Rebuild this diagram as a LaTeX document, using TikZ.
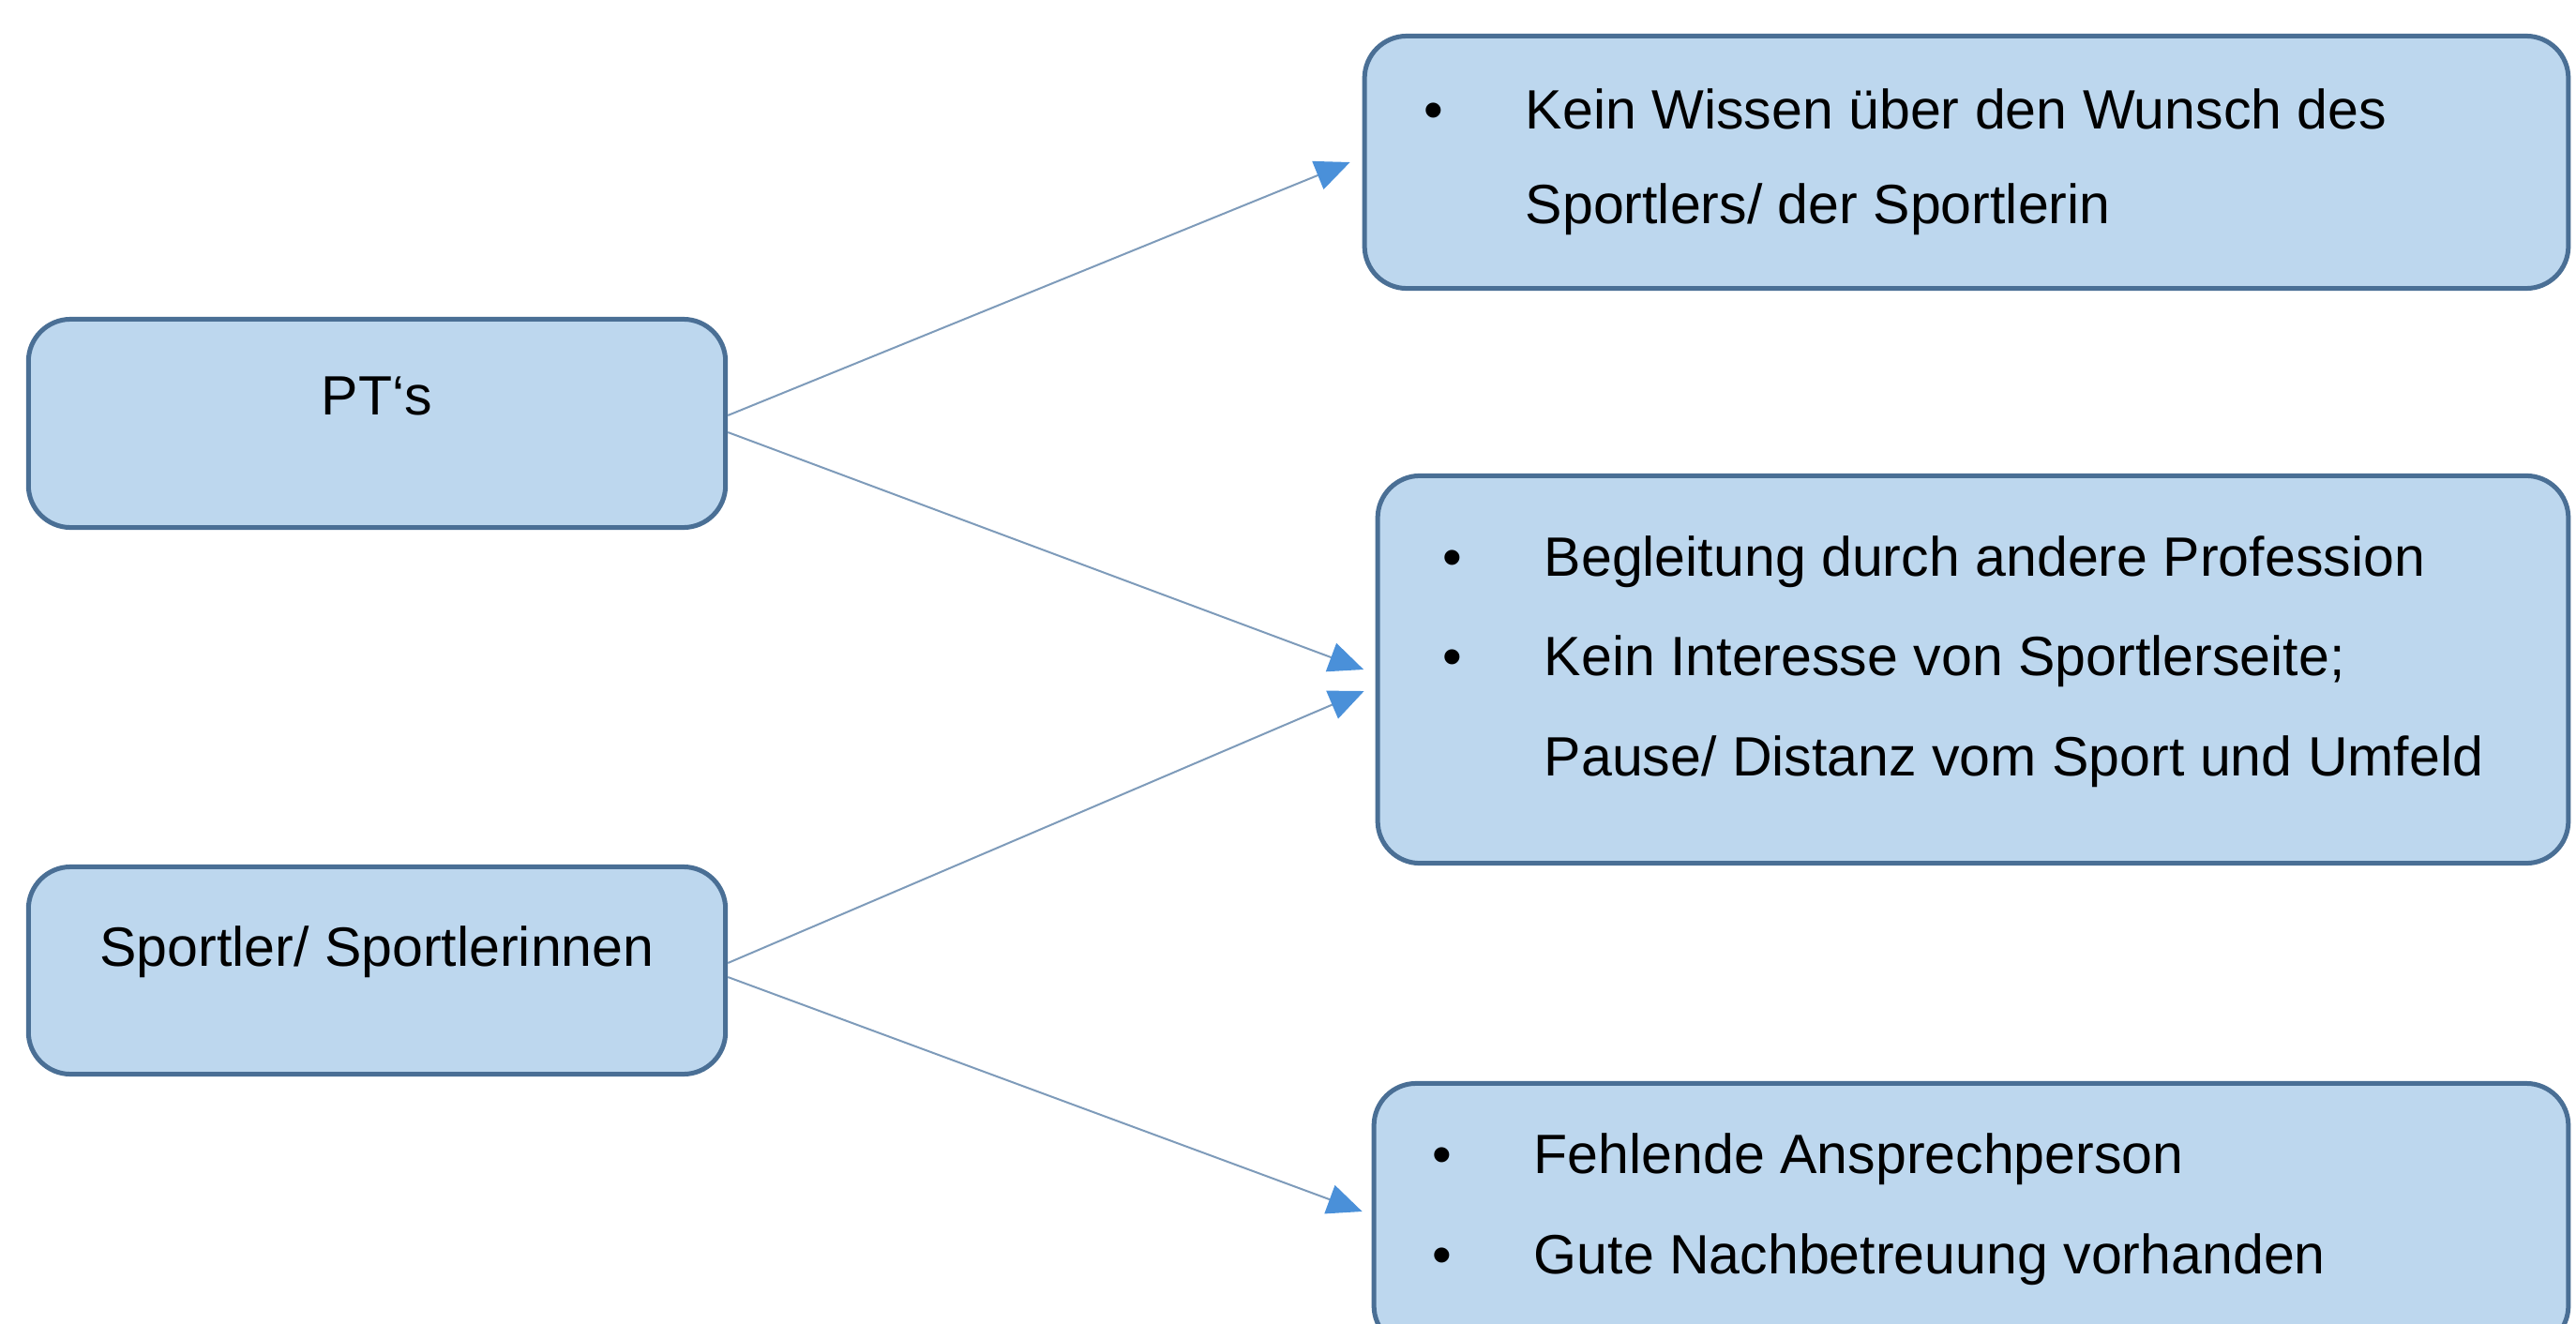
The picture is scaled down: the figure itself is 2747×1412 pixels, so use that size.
\documentclass[tikz,border=0pt]{standalone}
\usepackage{fontspec}
\setmainfont{Liberation Sans}
\usetikzlibrary{arrows.meta}
\definecolor{boxfill}{HTML}{BDD7EE}
\definecolor{boxline}{HTML}{4A6F95}
\definecolor{linkline}{HTML}{7E9BBA}
\definecolor{tipblue}{HTML}{4A90D9}
\newcommand{\bul}{\makebox[1.08cm][l]{\textbullet}}
\newcommand{\ind}{\hspace*{1.08cm}}

\begin{document}
\begin{tikzpicture}[x=0.01cm,y=-0.01cm,
  >={Triangle[length=0.37cm,width=0.32cm,color=tipblue]},
  box/.style={draw=boxline,fill=boxfill,line width=0.05cm,rounded corners=0.45cm,inner sep=0pt},
  txt/.style={inner sep=0pt,align=left,font=\fontsize{16.8}{30.2}\selectfont},
  link/.style={linkline,line width=0.02cm,->}]
%%
\useasboundingbox (0,0) rectangle (2747,1412);
\clip (0,0) rectangle (2747,1412);
%% boxes
\node (box_pt) at (402,451.5) [box,minimum width=7.43cm,minimum height=2.22cm] {};
  \node (box_sp) at (402,1035) [box,minimum width=7.43cm,minimum height=2.21cm] {};
  \node (box_kein) at (2097,173) [box,minimum width=12.83cm,minimum height=2.69cm] {};
  \node (box_begl) at (2104,714) [box,minimum width=12.69cm,minimum height=4.13cm] {};
  \node (box_fehl) at (2102,1296.5) [box,minimum width=12.73cm,minimum height=2.82cm] {};
%% texts (anchored at the baseline of the last line)
\node (txt_pt) at (402,442) [txt,anchor=base] {PT‘s};
  \node (txt_sp) at (402,1030) [txt,anchor=base] {Sportler/ Sportlerinnen};
  \node (txt_kein) at (1518,238) [txt,anchor=base west,font=\fontsize{16.8}{28.7}\selectfont]
    {\bul Kein Wissen über den Wunsch des\\\ind Sportlers/ der Sportlerin};
  \node (txt_begl) at (1538,827) [txt,anchor=base west]
    {\bul Begleitung durch andere Profession\\\bul Kein Interesse von Sportlerseite;\\\ind Pause/ Distanz vom Sport und Umfeld};
  \node (txt_fehl) at (1527,1358) [txt,anchor=base west]
    {\bul Fehlende Ansprechperson\\\bul Gute Nachbetreuung vorhanden};
%% connectors
\draw [link] ([yshift=0.085cm]box_pt.east) -- ([xshift=-0.13cm]box_kein.west);
  \draw [link] ([yshift=-0.095cm]box_pt.east) -- ([xshift=-0.125cm]box_begl.west);
  \draw [link] ([yshift=0.08cm]box_sp.east) -- ([xshift=-0.12cm,yshift=-0.23cm]box_begl.west);
  \draw [link] ([yshift=-0.07cm]box_sp.east) -- ([xshift=-0.1cm,yshift=0.045cm]box_fehl.west);
%
\end{tikzpicture}
\end{document}
